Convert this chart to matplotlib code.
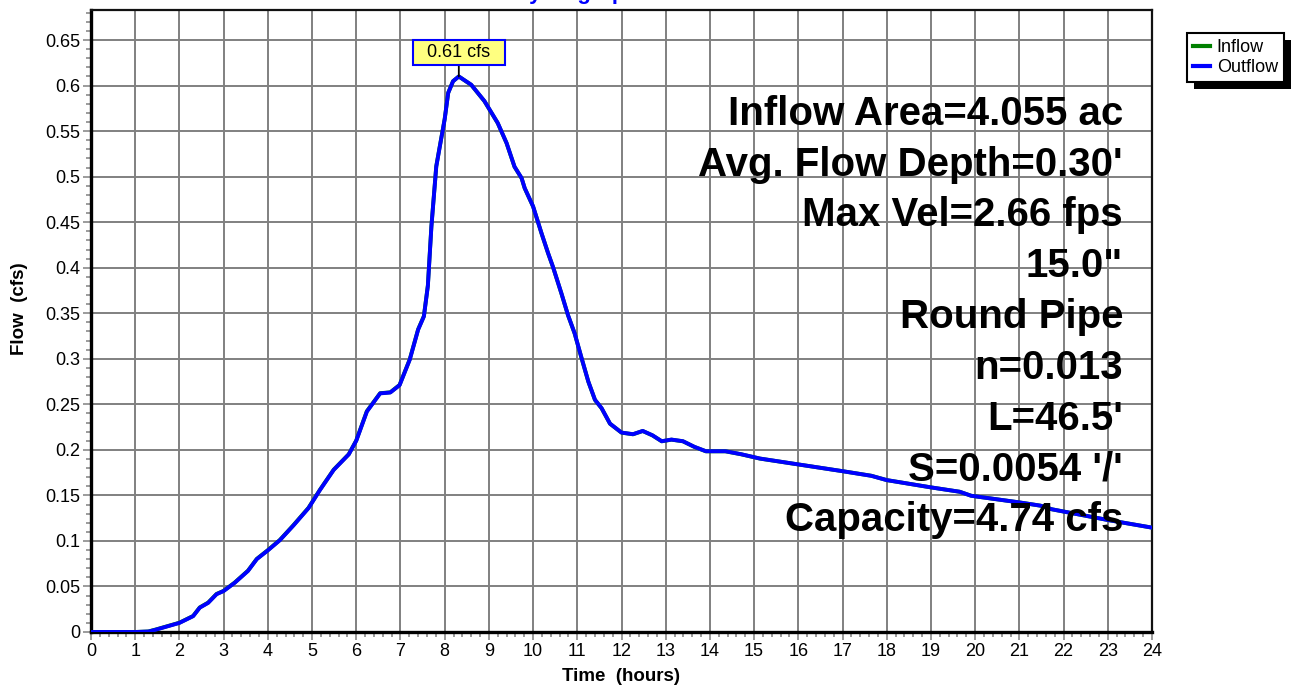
import matplotlib
matplotlib.use("Agg")
import matplotlib.pyplot as plt
from matplotlib.ticker import MultipleLocator, FuncFormatter
from matplotlib.patches import Rectangle

plt.rcParams['font.family'] = ['Liberation Sans', 'DejaVu Sans']

# ---------------- data ----------------
time_h = [0, 1.0, 1.3, 1.47, 2.0, 2.31, 2.46, 2.65, 2.84, 3.0, 3.25, 3.55, 3.75, 4.0, 4.27,
          4.58, 4.92, 5.18, 5.49, 5.83, 6.0, 6.24, 6.54, 6.77, 6.98, 7.21, 7.4, 7.53, 7.62,
          7.7, 7.81, 7.89, 8.0, 8.08, 8.19, 8.32, 8.6, 8.9, 9.2, 9.4, 9.58, 9.74, 9.81, 10.0,
          10.19, 10.34, 10.45, 10.64, 10.79, 10.94, 11.09, 11.25, 11.4, 11.55, 11.74, 12.0,
          12.26, 12.48, 12.7, 12.91, 13.13, 13.39, 13.65, 13.91, 14.35, 14.7, 15.13, 16.0,
          17.0, 17.65, 18.0, 19.0, 19.65, 19.91, 21.0, 21.48, 21.74, 23.0, 24.0]

outflow_cfs = [0, 0, 0.0005, 0.0026, 0.010, 0.0174, 0.0267, 0.032, 0.0415, 0.045, 0.054,
               0.067, 0.080, 0.0896, 0.1007, 0.117, 0.136, 0.156, 0.178, 0.195, 0.21, 0.242,
               0.262, 0.263, 0.271, 0.299, 0.332, 0.3465, 0.38, 0.445, 0.511, 0.533, 0.563,
               0.592, 0.6048, 0.61, 0.601, 0.583, 0.559, 0.537, 0.511, 0.4985, 0.4875, 0.4674,
               0.438, 0.416, 0.401, 0.372, 0.348, 0.328, 0.302, 0.275, 0.255, 0.2458, 0.2288,
               0.219, 0.2172, 0.2208, 0.216, 0.2095, 0.2113, 0.2095, 0.2033, 0.1985, 0.1985,
               0.1953, 0.1905, 0.184, 0.1766, 0.1715, 0.1668, 0.1588, 0.154, 0.1496, 0.1423,
               0.1387, 0.1347, 0.123, 0.1146]

inflow_cfs = [0, 0, 0.0006, 0.0028, 0.0102, 0.0176, 0.0270, 0.0323, 0.0418, 0.0452, 0.0543,
              0.0673, 0.0803, 0.0899, 0.1010, 0.1174, 0.1364, 0.1563, 0.1783, 0.1952, 0.2103,
              0.2425, 0.2622, 0.2632, 0.2713, 0.2994, 0.3324, 0.3469, 0.3806, 0.4458, 0.5116,
              0.5334, 0.5632, 0.5921, 0.6049, 0.61, 0.6008, 0.5828, 0.5588, 0.5368, 0.5108,
              0.4983, 0.4873, 0.4672, 0.4378, 0.4158, 0.4008, 0.3718, 0.3478, 0.3278, 0.3018,
              0.2748, 0.2548, 0.2456, 0.2287, 0.2189, 0.2171, 0.2207, 0.2159, 0.2094, 0.2112,
              0.2094, 0.2032, 0.1984, 0.1984, 0.1952, 0.1904, 0.1840, 0.1766, 0.1716, 0.1668,
              0.1588, 0.1540, 0.1496, 0.1423, 0.1387, 0.1347, 0.1230, 0.1146]

peak_time = 8.32
peak_flow = 0.61
peak_label = "0.61 cfs"

info_lines = ["Inflow Area=4.055 ac", "Avg. Flow Depth=0.30'", "Max Vel=2.66 fps",
              '15.0"', "Round Pipe", "n=0.013", "L=46.5'", "S=0.0054 '/'",
              "Capacity=4.74 cfs"]

series_names = ["Inflow", "Outflow"]
series_colors = ["#008000", "#0000FF"]

# ---------------- figure ----------------
W, H = 1294, 685
fig = plt.figure(figsize=(W / 100, H / 100), dpi=100)
ax = fig.add_axes([91 / W, 1 - 632 / H, (1152 - 91) / W, (632 - 10) / H])

ax.set_xlim(0, 24)
ax.set_ylim(0, 0.683)

ax.xaxis.set_major_locator(MultipleLocator(1))
ax.xaxis.set_minor_locator(MultipleLocator(0.2))
ax.yaxis.set_major_locator(MultipleLocator(0.05))
ax.yaxis.set_minor_locator(MultipleLocator(0.01))
ax.yaxis.set_major_formatter(FuncFormatter(lambda v, p: "%g" % round(v, 3)))

ax.grid(True, which='major', color='#808080', linewidth=1.4)
ax.set_axisbelow(True)

ax.tick_params(which='major', direction='out', length=6, width=1.1, color='#808080',
               labelsize=13, pad=2)
ax.tick_params(which='minor', direction='out', length=3.5, width=1.1, color='#808080')

for side in ['left', 'bottom']:
    ax.spines[side].set_linewidth(2.4)
    ax.spines[side].set_color('black')
for side in ['top', 'right']:
    ax.spines[side].set_linewidth(1.6)
    ax.spines[side].set_color('#111111')

ax.set_xlabel("Time  (hours)", fontsize=13.5, fontweight='bold', labelpad=6)
ax.set_ylabel("Flow  (cfs)", fontsize=13.5, fontweight='bold')
ax.yaxis.set_label_coords(-0.0595, 0.52)

ax.plot(time_h, inflow_cfs, color=series_colors[0], linewidth=2.8, solid_joinstyle='round',
        label=series_names[0], zorder=3)
ax.plot(time_h, outflow_cfs, color=series_colors[1], linewidth=2.8, solid_joinstyle='round',
        label=series_names[1], zorder=4)

# peak annotation
ax.annotate("  " + peak_label + "  ", xy=(peak_time, peak_flow), xytext=(0, 11),
            textcoords='offset points', ha='center', va='bottom', fontsize=13,
            bbox=dict(boxstyle='square,pad=0.23', fc='#FFFF80', ec='#0000FF', lw=1.5),
            arrowprops=dict(arrowstyle='-', color='black', lw=1.3, shrinkA=0, shrinkB=0),
            zorder=6)

# info text block
for i, line in enumerate(info_lines):
    fig.text(1123 / W, 1 - (125 + i * 50.75) / H, line, ha='right', va='baseline',
             fontsize=29, fontweight='bold', color='black', zorder=7)

# title (cut off at top, as in the reference)
fig.text(576 / W, 1 + 1.5 / H, "Hydrograph", ha='center', va='baseline',
         fontsize=16, fontweight='bold', color='#0000FF')

# legend with black drop shadow
leg = fig.legend(loc='upper left', bbox_to_anchor=(1187 / W, 1 - 33 / H),
                 bbox_transform=fig.transFigure, borderaxespad=0, fontsize=13,
                 frameon=True, fancybox=False, edgecolor='black', framealpha=1,
                 handlelength=0.9, handletextpad=0.4, borderpad=0.35, labelspacing=0.15)
leg.get_frame().set_linewidth(1.5)
for lh in leg.get_lines():
    lh.set_linewidth(3)

fig.canvas.draw()
bb = leg.get_window_extent()
shadow = Rectangle((bb.x0 + 7, bb.y0 - 7), bb.width, bb.height, transform=None,
                   facecolor='black', edgecolor='none', zorder=leg.get_zorder() - 0.5)
fig.add_artist(shadow)

fig.savefig("out.png", dpi=100)
